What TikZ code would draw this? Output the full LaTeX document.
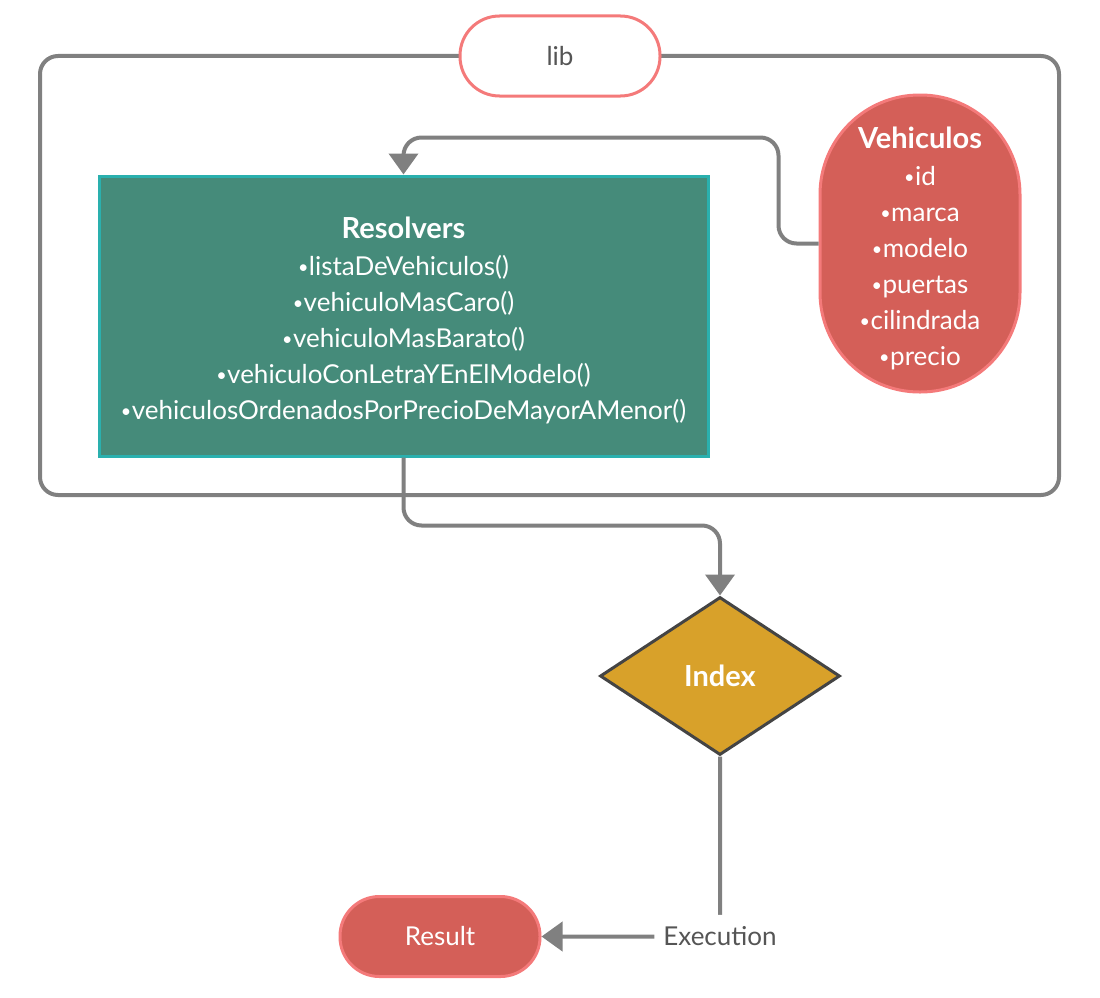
\documentclass[tikz,border=0pt]{standalone}
\usepackage{fontspec}
\setmainfont{Lato}
\usetikzlibrary{arrows.meta,shapes.geometric}
\definecolor{lineg}{HTML}{808080}
\definecolor{salmon}{HTML}{F47A7A}
\definecolor{redfill}{HTML}{D45F58}
\definecolor{greenfill}{HTML}{458B7A}
\definecolor{tealb}{HTML}{2AB0AE}
\definecolor{gold}{HTML}{D8A12A}
\definecolor{darkb}{HTML}{444444}
\definecolor{txtg}{HTML}{555555}
\newcommand\bul{\raisebox{1.8pt}{\fontsize{18}{18}\selectfont•}\hspace{0.5pt}}
\tikzset{
  conn/.style={draw=lineg, line width=4pt, rounded corners=18pt},
  arr/.style={-{Triangle[width=29pt,length=21pt]}, conn},
  pill/.style={draw=salmon, line width=3pt, rounded corners=39.5pt, minimum width=200pt, minimum height=80pt, inner sep=0pt},
  txt/.style={font=\fontsize{26}{36}\selectfont},
  ttl/.style={font=\fontsize{29}{36}\selectfont\bfseries}
}
\begin{document}
\begin{tikzpicture}[x=1pt,y=-1pt]
\useasboundingbox (0,0) rectangle (1100,998);
% outer frame
\draw[draw=lineg, line width=4pt, rounded corners=18pt] (40,56) rectangle (1059,495);
\node[pill, fill=white, text=txtg, txt] (lib) at (560,56) {lib};
% resolvers
\node[draw=tealb, fill=greenfill, line width=3pt, minimum width=609pt, minimum height=280pt, inner sep=0pt] (res) at (403.5,316) {};
\node[text=white, align=center, txt, anchor=north, inner sep=0pt] (restxt) at (403.5,217) {{\fontsize{29}{36}\selectfont\bfseries Resolvers}\\[1pt]
\bul listaDeVehiculos()\\
\bul vehiculoMasCaro()\\
\bul vehiculoMasBarato()\\
\bul vehiculoConLetraYEnElModelo()\\
\bul vehiculosOrdenadosPorPrecioDeMayorAMenor()};
% vehiculos
\node[draw=salmon, fill=redfill, line width=3pt, rounded corners=99.5pt, minimum width=200pt, minimum height=297pt, inner sep=0pt] (veh) at (920,243.5) {};
\node[text=white, align=center, txt, anchor=north, inner sep=0pt] (vehtxt) at (920,127) {{\fontsize{29}{36}\selectfont\bfseries Vehiculos}\\[1pt]
\bul id\\
\bul marca\\
\bul modelo\\
\bul puertas\\
\bul cilindrada\\
\bul precio};
% index
\node[diamond, draw=darkb, fill=gold, line width=3pt, minimum width=240pt, minimum height=158pt, inner sep=0pt, aspect=1.52, text=white, ttl] (idx) at (720,676) {Index};
% result
\node[pill, fill=redfill, text=white, txt] (result) at (440,936.5) {Result};
% connectors
\draw[arr] (veh.west) -- ++(-40,0) |- ++(-200,-106) -| (res.north);
\draw[arr] (res.south) -- ++(0,68) -| (idx.north);
\draw[arr] (idx.south) |- node[pos=0.5, fill=white, text=txtg, txt, inner xsep=9pt, inner ysep=12pt] (exec) {Execution} (result.east);
\end{tikzpicture}
\end{document}
